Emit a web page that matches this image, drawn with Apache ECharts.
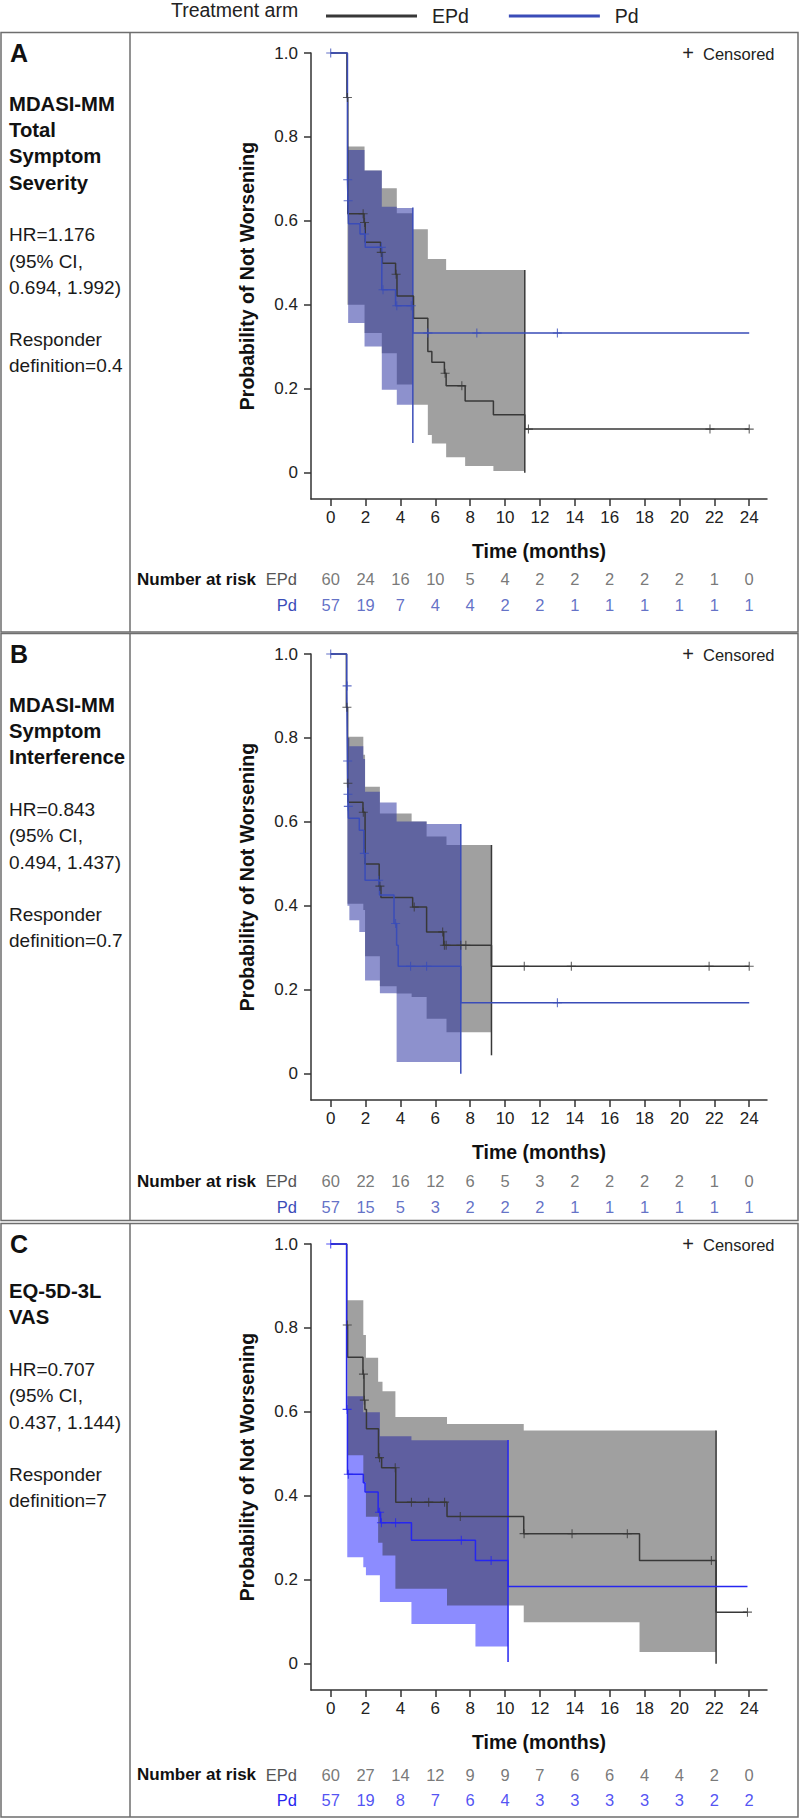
<!DOCTYPE html>
<html><head><meta charset="utf-8">
<script src="https://cdn.jsdelivr.net/npm/echarts@6/dist/echarts.min.js"></script>
<style>html,body{margin:0;padding:0;background:#fff}#c{width:800px;height:1819px}</style>
</head><body><div id="c"></div><script>
// ---------------- DATA ----------------
const monthTicks = [0,2,4,6,8,10,12,14,16,18,20,22,24];
const probTicks = [0,0.2,0.4,0.6,0.8,1.0];
const armNames = ['EPd','Pd'];
const riskTimes = [0,2,4,6,8,10,12,14,16,18,20,22,24];

// Panel A
const A_kmEPd = [[0,1],[0.93,0.894],[0.98,0.617],[1.91,0.596],[1.98,0.549],[2.86,0.525],[2.96,0.499],[3.72,0.473],[3.80,0.421],[4.75,0.368],[5.57,0.289],[5.80,0.263],[6.52,0.237],[6.62,0.207],[7.71,0.171],[9.33,0.138],[11.13,0.104],[24.0,0.104]];
const A_censEPd = [[0.96,0.894],[1.86,0.617],[1.94,0.596],[2.90,0.525],[3.75,0.473],[6.56,0.237],[7.52,0.207],[11.34,0.104],[21.75,0.104],[24.0,0.104]];
const A_kmPd = [[0,1],[0.96,0.698],[0.99,0.648],[1.02,0.593],[1.68,0.569],[1.98,0.537],[2.93,0.436],[3.72,0.398],[4.71,0.333],[24.0,0.333]];
const A_censPd = [[0,1],[0.975,0.698],[1.0,0.648],[1.94,0.569],[2.90,0.537],[3.0,0.436],[3.79,0.398],[4.62,0.398],[5.57,0.333],[8.38,0.333],[13.0,0.333]];
const A_ciEPd = [[0.96,1.94,0.40,0.777],[1.94,2.93,0.333,0.72],[2.93,3.79,0.285,0.678],[3.79,4.71,0.21,0.618],[4.71,5.57,0.162,0.58],[5.57,5.80,0.09,0.509],[5.80,6.62,0.07,0.509],[6.62,7.71,0.037,0.483],[7.71,9.33,0.016,0.483],[9.33,11.13,0.004,0.483]];
const A_ciPd = [[1.0,1.94,0.357,0.769],[1.94,2.93,0.301,0.72],[2.93,3.79,0.198,0.634],[3.79,4.71,0.162,0.631]];
const A_endEPd = [11.13,0.483,0.0];
const A_endPd = [4.71,0.632,0.071];
const A_riskEPd = [60,24,16,10,5,4,2,2,2,2,2,1,0];
const A_riskPd = [57,19,7,4,4,2,2,1,1,1,1,1,1];
const A_title = ['MDASI-MM','Total','Symptom','Severity'];
const A_stats = ['HR=1.176','(95% CI,','0.694, 1.992)'];
const A_resp = ['Responder','definition=0.4'];

// Panel B
const B_kmEPd = [[0,1],[0.90,0.873],[0.97,0.692],[1.0,0.647],[1.85,0.623],[1.97,0.4995],[2.78,0.447],[2.88,0.42],[4.70,0.397],[5.50,0.338],[6.48,0.306],[9.22,0.256],[24.0,0.256]];
const B_censEPd = [[0.93,0.873],[0.985,0.692],[1.87,0.623],[2.82,0.447],[4.79,0.397],[6.42,0.338],[6.52,0.306],[6.62,0.306],[7.46,0.306],[7.75,0.306],[11.1,0.256],[13.8,0.256],[21.7,0.256],[24.0,0.256]];
const B_kmPd = [[0,1],[0.92,0.924],[0.96,0.745],[0.98,0.666],[1.0,0.637],[1.02,0.609],[1.64,0.58],[1.90,0.525],[1.97,0.461],[2.80,0.426],[3.63,0.358],[3.78,0.306],[3.87,0.256],[7.46,0.169],[24.0,0.169]];
const B_censPd = [[0,1],[0.94,0.924],[0.97,0.745],[0.99,0.666],[1.01,0.637],[1.93,0.525],[2.75,0.461],[3.72,0.358],[4.58,0.256],[5.50,0.256],[13.0,0.169]];
const B_ciEPd = [[0.96,1.87,0.405,0.803],[1.87,1.97,0.39,0.76],[1.97,2.82,0.28,0.684],[2.82,3.78,0.2085,0.62],[3.78,4.64,0.191,0.62],[4.64,5.50,0.183,0.601],[5.50,6.64,0.131,0.565],[6.64,9.22,0.099,0.545]];
const B_ciPd = [[0.96,1.07,0.40,0.80],[1.07,1.64,0.366,0.78],[1.64,1.87,0.338,0.78],[1.87,1.97,0.338,0.75],[1.97,2.82,0.222,0.672],[2.82,3.78,0.192,0.646],[3.78,5.50,0.028,0.601],[5.50,7.46,0.028,0.595]];
const B_endEPd = [9.22,0.545,0.044];
const B_endPd = [7.46,0.595,0.0];
const B_riskEPd = [60,22,16,12,6,5,3,2,2,2,2,1,0];
const B_riskPd = [57,15,5,3,2,2,2,1,1,1,1,1,1];
const B_title = ['MDASI-MM','Symptom','Interference'];
const B_stats = ['HR=0.843','(95% CI,','0.494, 1.437)'];
const B_resp = ['Responder','definition=0.7'];

// Panel C
const C_kmEPd = [[0,1],[0.92,0.807],[0.97,0.73],[1.85,0.69],[1.91,0.628],[1.96,0.606],[2.05,0.56],[2.74,0.491],[2.92,0.467],[3.73,0.385],[6.67,0.351],[11.07,0.31],[17.71,0.246],[22.1,0.123],[23.9,0.123]];
const C_censEPd = [[0.95,0.807],[1.88,0.69],[1.93,0.628],[2.80,0.491],[3.70,0.467],[4.63,0.385],[5.62,0.385],[6.53,0.385],[7.43,0.351],[11.09,0.31],[13.84,0.31],[17.01,0.31],[21.83,0.246],[23.9,0.123]];
const C_kmPd = [[0,1],[0.91,0.606],[0.96,0.4515],[1.87,0.431],[1.97,0.409],[2.72,0.361],[2.86,0.336],[4.63,0.294],[8.30,0.246],[10.17,0.184],[23.9,0.184]];
const C_censPd = [[0,1],[0.94,0.606],[1.01,0.4515],[2.80,0.361],[2.91,0.336],[3.72,0.336],[7.49,0.294],[9.2,0.246]];
const C_ciEPd = [[0.95,1.87,0.497,0.866],[1.87,2.02,0.433,0.783],[2.02,2.72,0.35,0.729],[2.72,2.97,0.288,0.672],[2.97,3.71,0.258,0.649],[3.71,6.67,0.179,0.588],[6.67,11.07,0.139,0.571],[11.07,17.71,0.099,0.556],[17.71,22.1,0.028,0.556]];
const C_ciPd = [[0.95,1.87,0.254,0.6375],[1.87,2.02,0.23,0.599],[2.02,2.82,0.211,0.599],[2.82,4.63,0.147,0.542],[4.63,8.30,0.095,0.5325],[8.30,10.17,0.041,0.5325]];
const C_endEPd = [22.1,0.556,0.0];
const C_endPd = [10.17,0.533,0.004];
const C_riskEPd = [60,27,14,12,9,9,7,6,6,4,4,2,0];
const C_riskPd = [57,19,8,7,6,4,3,3,3,3,3,2,2];
const C_title = ['EQ-5D-3L','VAS'];
const C_stats = ['HR=0.707','(95% CI,','0.437, 1.144)'];
const C_resp = ['Responder','definition=7'];

const panelData = [
  {label:'A', kmE:A_kmEPd, kmP:A_kmPd, cE:A_censEPd, cP:A_censPd, ciE:A_ciEPd, ciP:A_ciPd, endE:A_endEPd, endP:A_endPd, rE:A_riskEPd, rP:A_riskPd, title:A_title, stats:A_stats, resp:A_resp},
  {label:'B', kmE:B_kmEPd, kmP:B_kmPd, cE:B_censEPd, cP:B_censPd, ciE:B_ciEPd, ciP:B_ciPd, endE:B_endEPd, endP:B_endPd, rE:B_riskEPd, rP:B_riskPd, title:B_title, stats:B_stats, resp:B_resp},
  {label:'C', kmE:C_kmEPd, kmP:C_kmPd, cE:C_censEPd, cP:C_censPd, ciE:C_ciEPd, ciP:C_ciPd, endE:C_endEPd, endP:C_endPd, rE:C_riskEPd, rP:C_riskPd, title:C_title, stats:C_stats, resp:C_resp}
];

// ---------------- LAYOUT / STYLE ----------------
const FONT = '"Liberation Sans", Arial, Helvetica, sans-serif';
const layout = [
  {boxTop:32.5, boxBottom:632, plotTop:53, riskTop:566.5, textOff:51, pdColor:'#3a4cb8', grayBand:'#a0a0a0', blueBand:'rgba(40,48,160,0.53)', grayOnTop:false},
  {boxTop:633.5, boxBottom:1220.5, plotTop:654, riskTop:1168.5, textOff:51, pdColor:'#3a4cb8', grayBand:'#a0a0a0', blueBand:'rgba(40,48,160,0.53)', grayOnTop:false},
  {boxTop:1223.5, boxBottom:1817, plotTop:1244, riskTop:1762, textOff:47, pdColor:'#2626f0', grayBand:'rgba(37,37,37,0.435)', blueBand:'#8c8cff', grayOnTop:true}
];
const PLOT_LEFT = 311, PLOT_W = 456, PLOT_H = 446, RISK_H = 51;
const XMIN = -1.13, XMAX = 25.02, YMIN = -0.0625, YMAX = 1.0;
const EPD_COLOR = '#383838';
const PLUS = 'path://M0,4.4H10V5.6H0Z M4.4,0H5.6V10H4.4Z';
const LINE_H = 26.2;

function bandSeries(gi, rows, color, z) {
  return {
    type:'custom', xAxisIndex:gi, yAxisIndex:gi, z:z, silent:true, clip:false,
    data: rows,
    renderItem: function (params, api) {
      if (params.dataIndex !== 0) return null;
      const pts = [];
      rows.forEach(r => { pts.push(api.coord([r[0], r[3]])); pts.push(api.coord([r[1], r[3]])); });
      for (let i = rows.length - 1; i >= 0; i--) {
        const r = rows[i];
        pts.push(api.coord([r[1], r[2]])); pts.push(api.coord([r[0], r[2]]));
      }
      return {type:'polygon', shape:{points:pts}, style:{fill:color, stroke:null}};
    }
  };
}

const grid = [], xAxis = [], yAxis = [], series = [], elements = [];

function txt(x, y, text, o) {
  o = o || {};
  elements.push({type:'text', x:x, y:y, silent:true, z:10, style:{
    text:text, fill:o.color || '#111', fontSize:o.size || 18, fontWeight:o.weight || 'normal', fontFamily:FONT,
    align:o.align || 'left', textAlign:o.align || 'left',
    verticalAlign:o.va || 'middle', textVerticalAlign:o.va || 'middle',
    lineHeight:o.lh
  }});
}

txt(171, 10, 'Treatment arm', {size:19.5, color:'#222'});

panelData.forEach((pd, p) => {
  const L = layout[p];
  const gi = 2 * p, ri = 2 * p + 1;
  grid.push({left:PLOT_LEFT, width:PLOT_W, top:L.plotTop, height:PLOT_H});
  grid.push({left:PLOT_LEFT, width:PLOT_W, top:L.riskTop, height:RISK_H});

  xAxis.push({gridIndex:gi, type:'value', min:XMIN, max:XMAX,
    axisLine:{onZero:false, lineStyle:{color:'#333', width:1.5}},
    axisTick:{customValues:monthTicks, length:7, lineStyle:{color:'#333', width:1.5}},
    axisLabel:{customValues:monthTicks, fontSize:17, color:'#222', margin:10, fontFamily:FONT},
    splitLine:{show:false},
    name:'Time (months)', nameLocation:'middle', nameGap:42,
    nameTextStyle:{fontSize:19.5, fontWeight:'bold', color:'#111', fontFamily:FONT}});
  xAxis.push({gridIndex:ri, type:'value', min:XMIN, max:XMAX, show:false});

  yAxis.push({gridIndex:gi, type:'value', min:YMIN, max:YMAX,
    axisLine:{show:true, onZero:false, lineStyle:{color:'#333', width:1.5}},
    axisTick:{show:true, customValues:probTicks, length:7, lineStyle:{color:'#333', width:1.5}},
    axisLabel:{customValues:probTicks, fontSize:17, color:'#222', margin:13, fontFamily:FONT,
      formatter: v => (Math.abs(v) < 1e-9 ? '0' : Number(v).toFixed(1))},
    splitLine:{show:false},
    name:'Probability of Not Worsening', nameLocation:'middle', nameGap:54, nameRotate:90,
    nameTextStyle:{fontSize:19.5, fontWeight:'bold', color:'#111', fontFamily:FONT}});
  yAxis.push({gridIndex:ri, type:'category', data:armNames, inverse:true,
    axisLine:{show:false}, axisTick:{show:false}, splitLine:{show:false},
    axisLabel:{margin:14, fontSize:16.5, fontFamily:FONT, color: v => (v === 'EPd' ? '#555' : L.pdColor)}});

  // CI bands
  if (L.grayOnTop) {
    series.push(bandSeries(gi, pd.ciP, L.blueBand, 1));
    series.push(bandSeries(gi, pd.ciE, L.grayBand, 1.5));
  } else {
    series.push(bandSeries(gi, pd.ciE, L.grayBand, 1));
    series.push(bandSeries(gi, pd.ciP, L.blueBand, 1.5));
  }
  // band end lines
  series.push({type:'line', xAxisIndex:gi, yAxisIndex:gi, data:[[pd.endE[0], pd.endE[1]],[pd.endE[0], pd.endE[2]]],
    symbol:'none', clip:false, silent:true, z:3, lineStyle:{color:EPD_COLOR, width:1.5}});
  series.push({type:'line', xAxisIndex:gi, yAxisIndex:gi, data:[[pd.endP[0], pd.endP[1]],[pd.endP[0], pd.endP[2]]],
    symbol:'none', clip:false, silent:true, z:3, lineStyle:{color:L.pdColor, width:1.5}});
  // KM curves
  series.push({type:'line', name:'EPd', xAxisIndex:gi, yAxisIndex:gi, data:pd.kmE, step:'end', symbol:'none',
    clip:false, silent:true, z:4, color:EPD_COLOR, lineStyle:{color:EPD_COLOR, width:1.5}, itemStyle:{color:EPD_COLOR}});
  series.push({type:'line', name:'Pd', xAxisIndex:gi, yAxisIndex:gi, data:pd.kmP, step:'end', symbol:'none',
    clip:false, silent:true, z:5, color:L.pdColor, lineStyle:{color:L.pdColor, width:1.5}, itemStyle:{color:L.pdColor}});
  // censor marks
  series.push({type:'scatter', xAxisIndex:gi, yAxisIndex:gi, data:pd.cE, symbol:PLUS, symbolSize:9,
    clip:false, silent:true, z:6, itemStyle:{color:EPD_COLOR}});
  series.push({type:'scatter', xAxisIndex:gi, yAxisIndex:gi, data:pd.cP, symbol:PLUS, symbolSize:9,
    clip:false, silent:true, z:6, itemStyle:{color:L.pdColor}});
  // risk table
  series.push({type:'scatter', xAxisIndex:ri, yAxisIndex:ri, symbolSize:1, silent:true, itemStyle:{color:'rgba(0,0,0,0)'},
    data: riskTimes.map((t, i) => [t, 'EPd', pd.rE[i]]),
    label:{show:true, position:'inside', formatter: q => String(q.value[2]), color:'#555', fontSize:16.5, fontFamily:FONT}});
  series.push({type:'scatter', xAxisIndex:ri, yAxisIndex:ri, symbolSize:1, silent:true, itemStyle:{color:'rgba(0,0,0,0)'},
    data: riskTimes.map((t, i) => [t, 'Pd', pd.rP[i]]),
    label:{show:true, position:'inside', formatter: q => String(q.value[2]), color:L.pdColor, fontSize:16.5, fontFamily:FONT}});

  // panel frame
  elements.push({type:'rect', silent:true, z:0, shape:{x:1, y:L.boxTop, width:797, height:L.boxBottom - L.boxTop},
    style:{fill:null, stroke:'#6e6e6e', lineWidth:1.5}});
  elements.push({type:'line', silent:true, z:0, shape:{x1:130, y1:L.boxTop, x2:130, y2:L.boxBottom},
    style:{stroke:'#6e6e6e', lineWidth:1.5}});

  // left text block
  const t0 = L.plotTop + L.textOff;
  txt(10, L.plotTop, pd.label, {size:25, weight:'bold'});
  txt(9, t0 - LINE_H / 2, pd.title.join('\n'), {size:20.3, weight:'bold', va:'top', lh:LINE_H});
  const s0 = t0 + LINE_H * (pd.title.length + 1);
  txt(9, s0 - LINE_H / 2, pd.stats.join('\n'), {size:19, va:'top', lh:LINE_H, color:'#1a1a1a'});
  const r0 = s0 + LINE_H * (pd.stats.length + 1);
  txt(9, r0 - LINE_H / 2, pd.resp.join('\n'), {size:19, va:'top', lh:LINE_H, color:'#1a1a1a'});

  // censored key
  txt(688, L.plotTop, '+', {size:20, align:'center', color:'#222'});
  txt(703, L.plotTop + 0.5, 'Censored', {size:16.5, color:'#222'});
  // number at risk
  txt(137, L.riskTop + RISK_H / 4, 'Number at risk', {size:17, weight:'bold'});
});

const chart = echarts.init(document.getElementById('c'), null, {renderer:'svg', width:800, height:1819});
chart.setOption({
  animation:false,
  backgroundColor:'#ffffff',
  textStyle:{fontFamily:FONT},
  legend:{data:armNames, left:321, top:1, icon:'rect', itemWidth:91, itemHeight:3, itemGap:40, selectedMode:false,
    textStyle:{fontSize:19.5, color:'#222', fontFamily:FONT, padding:[0,0,0,10]}},
  grid: grid, xAxis: xAxis, yAxis: yAxis, series: series,
  graphic:{elements: elements}
});
</script></body></html>
